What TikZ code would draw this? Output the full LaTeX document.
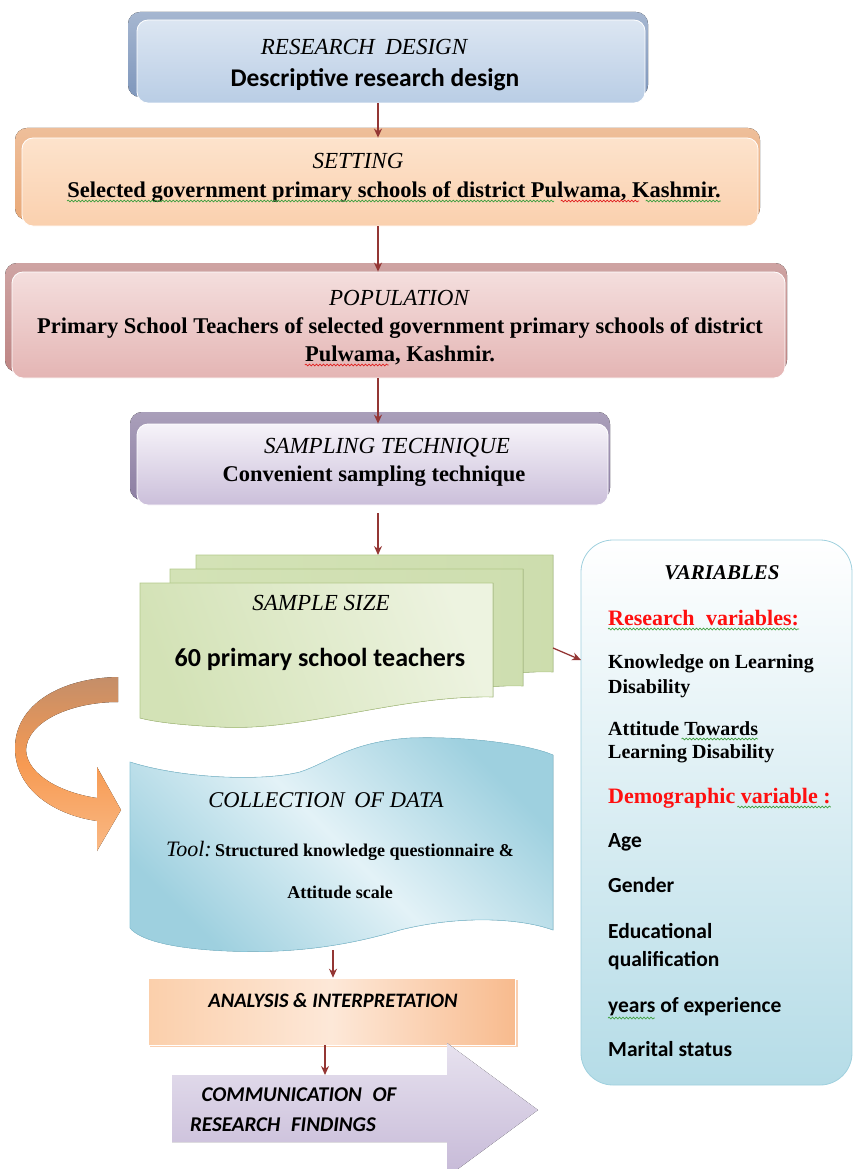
\documentclass[tikz,border=0pt]{standalone}
\usepackage{fontspec}
\setmainfont{Liberation Serif}
\newfontfamily\carl{Carlito}
\usetikzlibrary{arrows.meta,calc,decorations.pathmorphing}
\definecolor{arrc}{HTML}{943634}
\definecolor{rdT}{HTML}{DCE6F2}\definecolor{rdB}{HTML}{B9CDE5}\definecolor{rdS}{HTML}{7F97BC}
\definecolor{stT}{HTML}{FDE3CC}\definecolor{stB}{HTML}{FAD0AE}\definecolor{stS}{HTML}{E9A978}
\definecolor{poT}{HTML}{F4DEDD}\definecolor{poB}{HTML}{E4B5B4}\definecolor{poS}{HTML}{BE8584}
\definecolor{saT}{HTML}{F6F3F9}\definecolor{saB}{HTML}{CBBFDA}\definecolor{saS}{HTML}{8D7FA3}
\definecolor{gnA}{HTML}{D3E2B6}\definecolor{gnB}{HTML}{EDF3E0}\definecolor{gnD}{HTML}{B3C98A}
\definecolor{blA}{HTML}{9ED0DF}\definecolor{blB}{HTML}{E3F2F7}\definecolor{blD}{HTML}{8CC6D8}
\definecolor{orA}{HTML}{FBCFAB}\definecolor{orB}{HTML}{FDE8D8}\definecolor{orC}{HTML}{F8BB8E}
\definecolor{puA}{HTML}{E7E2EF}\definecolor{puB}{HTML}{C6B9D7}
\definecolor{rbA}{HTML}{C48E69}\definecolor{rbB}{HTML}{F79A52}\definecolor{rbC}{HTML}{F9B985}
\definecolor{vrB}{HTML}{B5DCE7}\definecolor{vrD}{HTML}{9FD0DE}
\definecolor{redtxt}{HTML}{FF1010}
\definecolor{sqg}{HTML}{3FA03F}
\definecolor{sqr}{HTML}{E02020}
\tikzset{
  arr/.style={draw=arrc, line width=1.3pt, -{Stealth[length=9pt,width=8pt]}},
  boxn/.style={rounded corners=11pt, inner sep=0pt, draw=white, line width=0.8pt},
  ttl/.style={font={\fontsize{23}{27}\selectfont\itshape}, anchor=base, inner sep=0pt},
  bdy/.style={font={\fontsize{22.5}{26}\selectfont\bfseries}, anchor=base, inner sep=0pt},
  cbd/.style={font={\carl\fontsize{25.5}{30}\selectfont\bfseries}, anchor=base, inner sep=0pt},
  vser/.style={font={\fontsize{20}{24}\selectfont\bfseries}, anchor=base west, inner sep=0pt},
  vred/.style={font={\fontsize{22}{26}\selectfont\bfseries}, text=redtxt, anchor=base west, inner sep=0pt},
  vcal/.style={font={\carl\fontsize{21.5}{26}\selectfont\bfseries}, anchor=base west, inner sep=0pt},
  cit/.style={font={\carl\fontsize{20.5}{24}\selectfont\bfseries\itshape}, anchor=base, inner sep=0pt},
  squig/.style={line width=0.7pt, decorate, decoration={snake, amplitude=0.9pt, segment length=3.5pt}},
}
\begin{document}
\begin{tikzpicture}[x=1pt,y=-1pt]
\useasboundingbox (0,0) rectangle (854,1169);
\coordinate (cx) at (378,0);

% ---------- top boxes ----------
\fill[top color=rdS!70, bottom color=rdS, rounded corners=12pt] (128,12) rectangle (648,97);
\node[boxn, top color=rdT, bottom color=rdB, minimum width=508pt, minimum height=83pt] (rd) at (391,61.5) {};
\node[ttl] (rdt) at (364,55) {RESEARCH\hspace{5pt} DESIGN};
\node[cbd] (rdb) at (375,87) {Descriptive research design};

\fill[top color=stS!75, bottom color=stS, rounded corners=12pt] (15,128) rectangle (760,220);
\node[boxn, top color=stT, bottom color=stB, minimum width=736pt, minimum height=88pt] (st) at (390,182) {};
\node[ttl] (stt) at (358,168) {SETTING};
\node[bdy] (stb) at (394,197) {Selected government primary schools of district Pulwama, Kashmir.};

\fill[top color=poS!75, bottom color=poS, rounded corners=12pt] (5,263) rectangle (787,372);
\node[boxn, top color=poT, bottom color=poB, minimum width=773pt, minimum height=106pt] (po) at (398.5,325) {};
\node[ttl] (pot) at (399,305) {POPULATION};
\node[bdy] (pob1) at (400,333) {Primary School Teachers of selected government primary schools of district};
\node[bdy] (pob2) at (400,361) {Pulwama, Kashmir.};

\fill[top color=saS!75, bottom color=saS, rounded corners=12pt] (130,412) rectangle (610,500);
\node[boxn, top color=saT, bottom color=saB, minimum width=471pt, minimum height=81pt] (sa) at (372.5,464.5) {};
\node[ttl] (sat) at (387,453) {SAMPLING TECHNIQUE};
\node[bdy] (sab) at (374,481) {Convenient sampling technique};

% spell-check marks
\draw[squig, sqg] ([yshift=-4pt]stb.base west) -- ([yshift=-4pt]$(stb.base west)!0.745!(stb.base east)$);
\draw[squig, sqr] ([yshift=-4pt]$(stb.base west)!0.755!(stb.base east)$) -- ([yshift=-4pt]$(stb.base west)!0.875!(stb.base east)$);
\draw[squig, sqg] ([yshift=-4pt]$(stb.base west)!0.885!(stb.base east)$) -- ([yshift=-4pt]stb.base east);
\draw[squig, sqr] ([yshift=-4pt]pob2.base west) -- ([yshift=-4pt]$(pob2.base west)!0.44!(pob2.base east)$);

% ---------- sample size stack ----------
\filldraw[draw=gnD, line width=0.6pt, left color=gnA, right color=gnA!80!gnD]
  (196,555) -- (553,555) -- (553,672) .. controls (530,671) and (500,674) .. (470,680) -- (196,690) -- cycle;
\filldraw[draw=gnD, line width=0.6pt, left color=gnA, right color=gnA!85!gnD]
  (170,569) -- (523,569) -- (523,686) .. controls (500,685) and (470,688) .. (440,694) -- (170,704) -- cycle;
\filldraw[draw=gnD, line width=0.6pt, left color=gnA, right color=gnB, shading angle=110]
  (140,583) -- (493,583) -- (493,697) .. controls (400,695) and (300,732) .. (220,727)
  .. controls (180,725) and (155,722) .. (140,718) -- cycle;
\coordinate (ssin) at (378,555);
\coordinate (ssout) at (553,648);
\node[ttl] (sst) at (321,610) {SAMPLE SIZE};
\node[font={\carl\fontsize{26}{30}\selectfont\bfseries}, anchor=base, inner sep=0pt] (ssb) at (320,666) {60 primary school teachers};

% ---------- variables ----------
\node[draw=vrD, line width=0.8pt, rounded corners=32pt, top color=white, bottom color=vrB,
      minimum width=271pt, minimum height=545pt, inner sep=0pt] (var) at (716.5,812.5) {};
\coordinate (varin) at (581,660);
\node[font={\fontsize{21}{25}\selectfont\bfseries\itshape}, anchor=base, inner sep=0pt] (vt) at (722,579) {VARIABLES};
\node[vred] (v1) at (608,625) {Research\hspace{6pt} variables:};
\node[vser] (v2) at (608,668) {Knowledge on Learning};
\node[vser] (v3) at (608,693) {Disability};
\node[vser] (v4) at (608,735) {Attitude Towards};
\node[vser] (v5) at (608,758) {Learning Disability};
\node[vred] (v6) at (608,803) {Demographic variable :};
\node[vcal] (v7) at (608,847) {Age};
\node[vcal] (v8) at (608,892) {Gender};
\node[vcal] (v9) at (608,938) {Educational};
\node[vcal] (v10) at (608,966) {qualification};
\node[vcal] (v11) at (608,1012) {years of experience};
\node[vcal] (v12) at (608,1056) {Marital status};
\draw[squig, sqg] ([yshift=-4pt]v1.base west) -- ([yshift=-4pt]v1.base east);
\draw[squig, sqg] ([yshift=-4pt]$(v4.base west)!0.49!(v4.base east)$) -- ([yshift=-4pt]v4.base east);
\draw[squig, sqg] ([yshift=-4pt]$(v6.base west)!0.58!(v6.base east)$) -- ([yshift=-4pt]v6.base east);
\draw[squig, sqg] ([yshift=-6pt]v11.base west) -- ([yshift=-6pt]$(v11.base west)!0.27!(v11.base east)$);

% ---------- orange curved arrow ----------
\fill[top color=rbA, bottom color=rbC, middle color=rbB]
  (118,677) .. controls (60,678) and (15,705) .. (15,748)
  .. controls (15,790) and (55,815) .. (97,821) -- (97,851) -- (121,810) -- (97,767) -- (97,798)
  .. controls (62,793) and (27,775) .. (26,750)
  .. controls (27,722) and (70,702) .. (118,702) -- cycle;

% ---------- collection of data ----------
\filldraw[draw=blD, line width=0.6pt, top color=blA, bottom color=blA, middle color=blB, shading angle=135]
  (130,762) .. controls (180,778) and (260,782) .. (300,772)
  .. controls (330,762) and (350,742) .. (410,738)
  .. controls (470,736) and (530,745) .. (553,755) -- (553,930)
  .. controls (520,918) and (460,915) .. (400,930)
  .. controls (340,948) and (280,955) .. (210,950)
  .. controls (170,947) and (140,940) .. (130,928) -- cycle;
\coordinate (cdout) at (333,950);
\node[font={\fontsize{22.5}{26}\selectfont\itshape}, anchor=base, inner sep=0pt] (cdt) at (326,807) {COLLECTION\hspace{4pt} OF DATA};
\node[anchor=base, inner sep=0pt] (cdb) at (340,856) {{\fontsize{22}{26}\selectfont\itshape Tool:} {\fontsize{18}{21}\selectfont\bfseries Structured knowledge questionnaire \&}};
\node[font={\fontsize{18}{22}\selectfont\bfseries}, anchor=base, inner sep=0pt] (cdb2) at (340,898) {Attitude scale};

% ---------- analysis ----------
\fill[orC!70] (150,980) rectangle (518,1047);
\node[draw=white, line width=0.6pt, left color=orA, right color=orC, middle color=orB, minimum width=367pt, minimum height=67pt, inner sep=0pt] (an) at (331.5,1011.5) {};
\node[cit] (ant) at (333,1007) {ANALYSIS \& INTERPRETATION};

% ---------- communication ----------
\fill[top color=puA, bottom color=puB]
  (172,1075) -- (447,1075) -- (447,1043) -- (538,1110) -- (447,1177) -- (447,1142) -- (172,1142) -- cycle;
\coordinate (cmin) at (325,1075);
\node[cit, font={\carl\fontsize{21}{25}\selectfont\bfseries\itshape}] (cm1) at (299,1101) {COMMUNICATION\hspace{6pt} OF};
\node[cit, font={\carl\fontsize{21}{25}\selectfont\bfseries\itshape}] (cm2) at (283,1131) {RESEARCH\hspace{6pt} FINDINGS};

% ---------- connectors ----------
\draw[arr] (rd.south -| cx) -- (st.north -| cx);
\draw[arr] (st.south -| cx) -- (po.north -| cx);
\draw[arr] (po.south -| cx) -- (sa.north -| cx);
\draw[arr] ([yshift=-8pt]sa.south -| cx) -- (ssin);
\draw[arr] (ssout) -- (varin);
\draw[arr] (cdout) -- (an.north -| cdout);
\draw[arr] (an.south -| cmin) -- (cmin);
\end{tikzpicture}
\end{document}
